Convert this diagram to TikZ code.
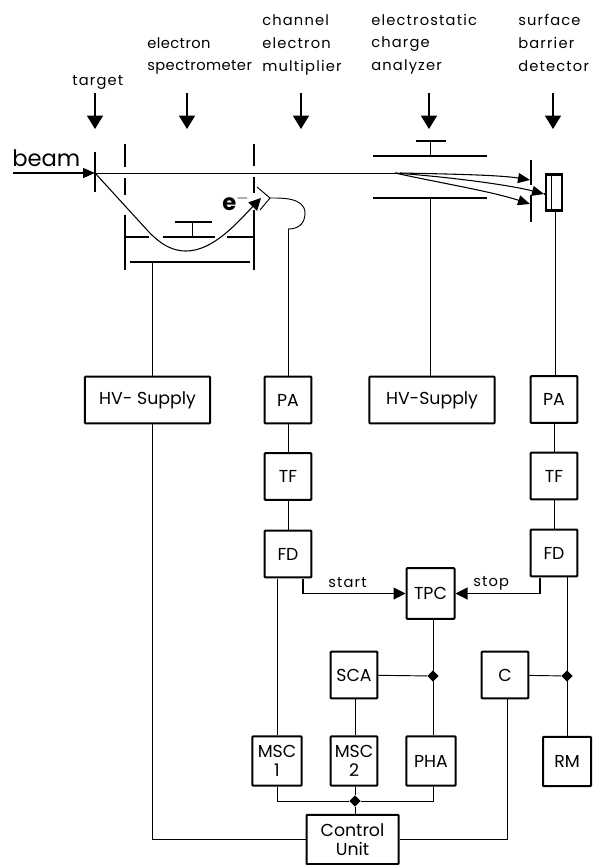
\documentclass[tikz,border=0pt]{standalone}
\usepackage{fontspec}
\setmainfont{Poppins}
\usetikzlibrary{arrows.meta,shapes.geometric}

\begin{document}
\begin{tikzpicture}[
  x=0.75pt, y=-0.75pt,
  blk/.style={rectangle, draw, line width=1.5pt, rounded corners=0.6pt, align=center, inner sep=0pt, minimum width=35pt, minimum height=35pt, font=\fontsize{13}{14}\selectfont},
  conn/.style={line width=0.7pt},
  plate/.style={line width=1.6pt},
  head/.style={font=\fontsize{11}{17}\selectfont\addfontfeature{LetterSpace=8}, anchor=west, align=left, inner sep=0pt},
  pointer/.style={line width=0.9pt, -{Triangle[length=10pt, width=12pt]}},
  tip/.style={line width=0.8pt, -{Triangle[length=9pt, width=7.5pt]}},
  bigtip/.style={line width=0.8pt, -{Triangle[length=9pt, width=9pt]}},
  dot/.style={diamond, fill, inner sep=0pt, minimum size=8.5pt},
]
\useasboundingbox (0,0) rectangle (594,865);

% === Labels on top ===
\node[head] (ltarget) at (72,82) {target};
\node[head, font=\fontsize{11}{17}\selectfont\addfontfeature{LetterSpace=3}] (lspec) at (147,56) {electron\\spectrometer};
\node[head] (lchan) at (262,45) {channel\\electron\\multiplier};
\node[head] (lesa) at (371,44) {electrostatic\\charge\\analyzer};
\node[head] (lsbd) at (518,43) {surface\\barrier\\detector};
\foreach \name/\xx in {ptarget/95, pspec/187, pchan/301, pesa/429, psbd/553} {
  \coordinate (\name) at (\xx,93);
  \draw[pointer] (\name) -- ++(0,36);
}

% === Beam and target ===
\node[font=\fontsize{17}{19}\selectfont, anchor=west, inner sep=0pt] (lbeam) at (12,158) {beam};
\coordinate (bstart) at (13,173);
\coordinate (target) at (95,173);
\coordinate (bend) at (400,173);
\draw[tip] (bstart) -- (target);
\draw[conn] (target) -- (bend);
\draw[plate, line width=1.1pt] (95,152) -- (95,192);

% === Electron spectrometer ===
\draw[plate] (125,144) -- (125,167) (125,178) -- (125,195) (125,215) -- (125,270);
\draw[plate] (254,144) -- (254,166) (254,177) -- (254,193) (254,210) -- (254,270);
\draw[plate] (125,237) -- (149,237) (163,237) -- (215,237) (227,237) -- (254,237);
\draw[plate] (175,222) -- (212,222);
\draw[conn] (192,222) -- (192,237);
\draw[plate] (130,262) -- (250,262);
\draw[bigtip] (target) -- (148,231) .. controls (163,247) and (175,251) .. (186,251) .. controls (213,251) and (237,223) .. (261,198);
\node[font=\bfseries\fontsize{17}{17}\selectfont, inner sep=0pt] (lelec) at (236,202) {e$^{\mathbf{-}}$};

% === Multiplier ===
\coordinate (cone) at (270,198);
\coordinate (chanend) at (288,229);
\draw[conn] (257,187) -- (cone) -- (260,210);
\draw[conn] (cone) .. controls (280,198) and (305,197) .. (305,213) .. controls (305,225) and (297,229) .. (chanend);

% === Electrostatic analyzer ===
\draw[plate] (373,156) -- (487,156);
\draw[plate] (373,198) -- (487,198);
\draw[plate] (416,141) -- (446,141);
\draw[conn] (430,141) -- (430,156);

% === Detector with slit ===
\draw[plate] (531,160) -- (531,185) (531,195) -- (531,222);
\node[rectangle, draw, line width=1.6pt, minimum width=12pt, minimum height=27pt, inner sep=0pt] (sbd) at (554,192.5) {};
\draw[conn] (551,175) -- (551,210);
\draw[tip] (bend) .. controls (450,174) and (500,175) .. (530,180);
\draw[tip] (395,173) .. controls (450,177) and (510,185) .. (544,194);
\draw[tip] (395,173) .. controls (440,183) and (490,191) .. (530,204);
\draw[plate] (544,194) -- (546,194);

% === Boxes ===
\node[blk, minimum width=94pt] (hv1) at (147.5,400) {HV- Supply};
\node[blk, minimum width=94pt] (hv2) at (432,400) {HV-Supply};
\node[blk] (pa1) at (288,400) {PA};
\node[blk] (tf1) at (288,476.5) {TF};
\node[blk] (fd1) at (288,554) {FD};
\node[blk] (pa2) at (554,399.5) {PA};
\node[blk] (tf2) at (554,476) {TF};
\node[blk] (fd2) at (554,553) {FD};
\node[blk, minimum width=36pt, minimum height=38pt] (tpc) at (430.5,593.5) {TPC};
\node[blk] (sca) at (354,675) {SCA};
\node[blk] (cc) at (505,675) {C};
\node[blk, minimum width=37pt, minimum height=37pt] (msc1) at (277,761) {MSC\\1};
\node[blk, minimum height=37pt] (msc2) at (354,761) {MSC\\2};
\node[blk, minimum width=37pt, minimum height=37pt] (pha) at (431,761) {PHA};
\node[blk, minimum width=36pt, minimum height=37pt] (rm) at (567,761.5) {RM};
\node[blk, minimum width=69pt, minimum height=37pt] (ctrl) at (352.5,839.5) {Control\\Unit};

% === Junctions ===
\node[dot] (j1) at (433,676) {};
\node[dot] (j2) at (567,676) {};
\node[dot] (j3) at (355,801) {};

% === Connections ===
\coordinate (hvstem) at (152,262);
\coordinate (esastem) at (430,198);
\coordinate (sbdstem) at (555,211);
\draw[conn] (hvstem) -- (hvstem |- hv1.north);
\draw[conn] (esastem) -- (esastem |- hv2.north);
\draw[conn] (chanend) -- (chanend |- pa1.north);
\draw[conn] (sbdstem) -- (sbdstem |- pa2.north);
\draw[conn] (pa1) -- (tf1);
\draw[conn] (tf1) -- (fd1);
\draw[conn] (pa2) -- (tf2);
\draw[conn] (tf2) -- (fd2);

\coordinate (hvout) at (152,423);
\draw[conn] (hvout) -- (hvout |- ctrl.west) -- (ctrl.west);
\coordinate (fdmsc) at (277,579);
\draw[conn] (fdmsc) -- (fdmsc |- msc1.north);
\coordinate (fdstart) at (303,579);
\draw[bigtip] (fdstart) -- (fdstart |- tpc.west) -- (tpc.west);
\coordinate (fdstop) at (540,578);
\draw[bigtip] (fdstop) -- (fdstop |- tpc.east) -- (tpc.east);
\node[head] (lstart) at (328,583) {start};
\node[head] (lstop) at (473,583) {stop};

\draw[conn] (j2 |- fd2.south) -- (j2 |- rm.north);
\draw[conn] (cc) -- (j2);
\draw[conn] (j1 |- tpc.south) -- (j1 |- pha.north);
\draw[conn] (sca) -- (j1);
\draw[conn] (j3 |- sca.south) -- (j3 |- msc2.north);
\draw[conn] (j3 |- msc2.south) -- (j3);
\draw[conn] (j3) -- (j3 |- ctrl.north);
\draw[conn] (msc1.south) -- (msc1.south |- j3) -- (j3);
\draw[conn] (j1 |- pha.south) -- (j1 |- j3) -- (j3);
\coordinate (cout) at (507,698);
\draw[conn] (cout) -- (cout |- ctrl.east) -- (ctrl.east);

\end{tikzpicture}
\end{document}
